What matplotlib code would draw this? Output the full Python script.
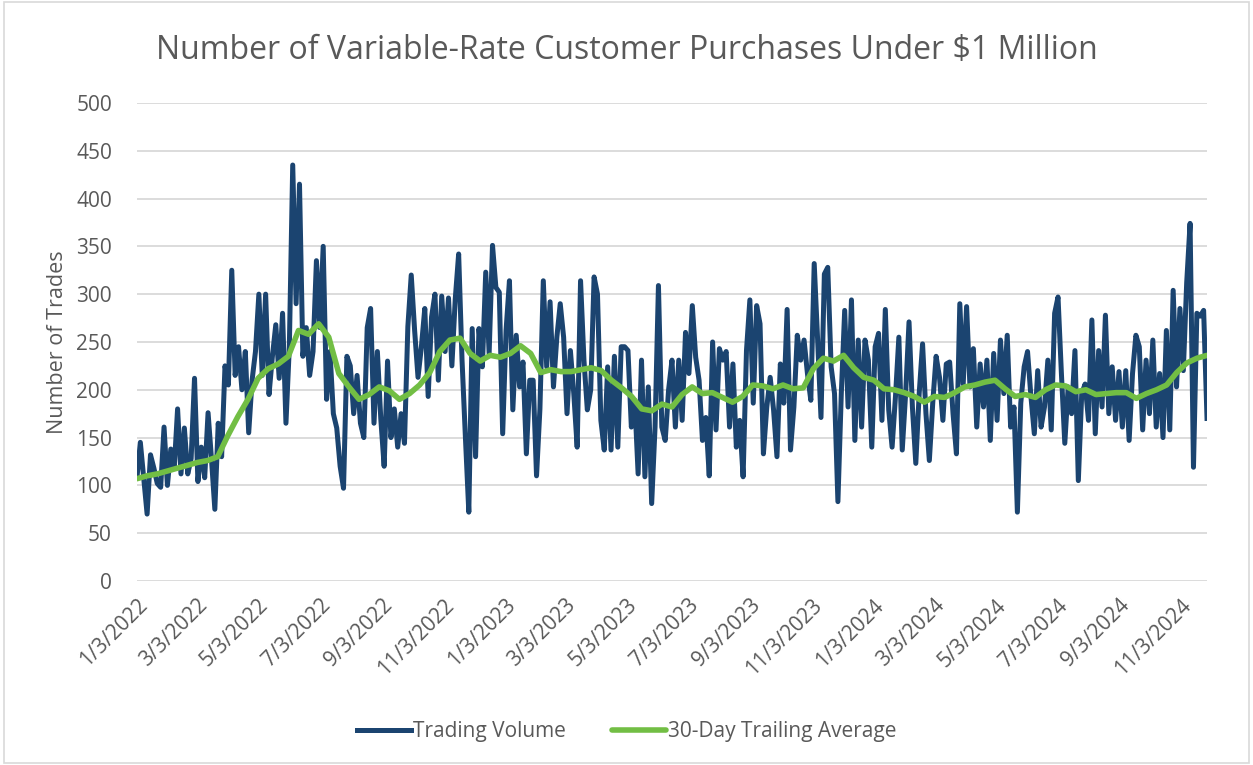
import pandas as pd
import matplotlib
matplotlib.use("Agg")
import matplotlib.pyplot as plt
from matplotlib.patches import Rectangle

plt.rcParams.update({"font.family": ["Open Sans", "DejaVu Sans"]})
NAVY, GREEN, GREYTXT, GRID = "#1B4470", "#72BE44", "#595959", "#D9D9D9"

start, end = "2022-01-03", "2024-11-29"

# daily trading volume (about 9 readings per month)
volume = [
    108, 145, 107, 70, 132, 118, 102, 98, 161,      # Jan 2022
    100, 138, 118, 180, 112, 160, 112, 128, 212,
    104, 140, 108, 176, 128, 75, 165, 130, 225,
    205, 325, 215, 245, 200, 240, 155, 210, 240,
    300, 215, 300, 195, 235, 268, 212, 280, 165,
    245, 435, 290, 415, 235, 265, 215, 240, 335,
    265, 350, 190, 240, 175, 160, 120, 97, 235,     # Jul 2022
    225, 175, 215, 165, 150, 265, 285, 165, 240,
    170, 120, 230, 150, 180, 140, 175, 144, 266,
    320, 262, 213, 245, 285, 193, 276, 300, 210,
    298, 240, 296, 225, 295, 342, 231, 150, 72,
    264, 130, 264, 224, 323, 238, 351, 307, 302,
    154, 262, 314, 179, 257, 203, 229, 133, 210,    # Jan 2023
    210, 110, 180, 314, 224, 292, 203, 255, 290,
    255, 175, 241, 196, 140, 314, 231, 179, 200,
    318, 300, 168, 137, 224, 137, 235, 140, 245,
    245, 241, 161, 189, 112, 231, 109, 203, 81,
    161, 309, 161, 147, 200, 231, 161, 231, 168,
    260, 217, 288, 234, 210, 147, 171, 110, 250,    # Jul 2023
    158, 243, 231, 240, 161, 227, 140, 168, 109,
    241, 294, 186, 288, 269, 133, 182, 213, 179,
    130, 227, 186, 284, 137, 182, 257, 231, 252,
    217, 189, 332, 253, 171, 321, 328, 224, 196,
    83, 196, 283, 182, 294, 147, 252, 161, 252,
    231, 140, 245, 259, 168, 284, 179, 140, 193,    # Jan 2024
    255, 137, 196, 271, 182, 123, 196, 248, 175,
    126, 186, 235, 213, 168, 227, 229, 175, 133,
    290, 206, 287, 203, 243, 161, 227, 182, 231,
    147, 238, 168, 252, 196, 257, 161, 182, 72,
    186, 224, 240, 193, 154, 220, 161, 182, 231,
    158, 280, 297, 217, 144, 203, 175, 241, 105,    # Jul 2024
    196, 206, 168, 273, 154, 241, 182, 278, 175,
    224, 168, 219, 161, 220, 147, 217, 257, 245,
    158, 231, 175, 252, 161, 217, 150, 262, 158,
    304, 203, 285, 220, 312, 374, 119, 280, 277,
    283, 170,
]

# 30-day trailing average (about every 10 days)
trailing = [
    107, 110, 112, 115, 118, 121, 124, 126, 130, 152,
    172, 190, 212, 222, 227, 235, 262, 258, 269, 255,
    217, 203, 190, 195, 203, 199, 190, 196, 205, 218,
    240, 252, 254, 238, 230, 236, 234, 238, 246, 238,
    218, 221, 219, 219, 221, 223, 220, 210, 202, 193,
    180, 178, 185, 182, 195, 203, 196, 197, 192, 187,
    193, 205, 204, 201, 205, 201, 202, 222, 233, 230,
    236, 223, 213, 210, 201, 200, 197, 193, 187, 193,
    192, 197, 203, 205, 208, 210, 201, 193, 195, 192,
    200, 205, 204, 198, 200, 195, 196, 197, 197, 191,
    196, 200, 205, 218, 228, 233, 236,
]

yticks = list(range(0, 501, 50))
xticks = pd.date_range("2022-01-01", "2024-11-01", freq="2MS") + pd.Timedelta(days=2)

vol_dates = pd.date_range(start, end, periods=len(volume))
avg_dates = pd.date_range(start, end, periods=len(trailing))

fig = plt.figure(figsize=(12.53, 7.65), dpi=100)
fig.patches.append(Rectangle((0.003, 0.003), 0.994, 0.994, transform=fig.transFigure,
                             fill=False, edgecolor=GRID, lw=1.2))
ax = fig.add_axes([0.1093, 0.2405, 0.854, 0.625])

ax.plot(vol_dates, volume, color=NAVY, lw=3.6, solid_joinstyle="round", label="Trading Volume")
ax.plot(avg_dates, trailing, color=GREEN, lw=4.0, solid_capstyle="round", label="30-Day Trailing Average")

ax.set_ylim(0, 500)
ax.set_yticks(yticks)
ax.set_xlim(pd.Timestamp(start), pd.Timestamp(end))
ax.set_xticks(xticks)
ax.set_xticklabels([f"{d.month}/{d.day}/{d.year}" for d in xticks], rotation=45,
                   ha="right", rotation_mode="anchor")
ax.grid(axis="y", color=GRID, lw=1.3)
ax.set_axisbelow(True)
for s in ax.spines.values():
    s.set_visible(False)
ax.tick_params(length=0, labelsize=15, labelcolor=GREYTXT)
ax.tick_params(axis="y", pad=18)
ax.tick_params(axis="x", pad=10)
ax.set_ylabel("Number of Trades", fontsize=15.5, color=GREYTXT, labelpad=6)

fig.suptitle("Number of Variable-Rate Customer Purchases Under $1 Million",
             fontsize=23, color=GREYTXT, y=0.955)
fig.legend(loc="lower center", bbox_to_anchor=(0.5, 0.005), ncol=2, frameon=False,
           fontsize=15, labelcolor=GREYTXT, handlelength=2.6, handletextpad=0.1,
           columnspacing=2.2)

fig.savefig("out.png", dpi=100)
